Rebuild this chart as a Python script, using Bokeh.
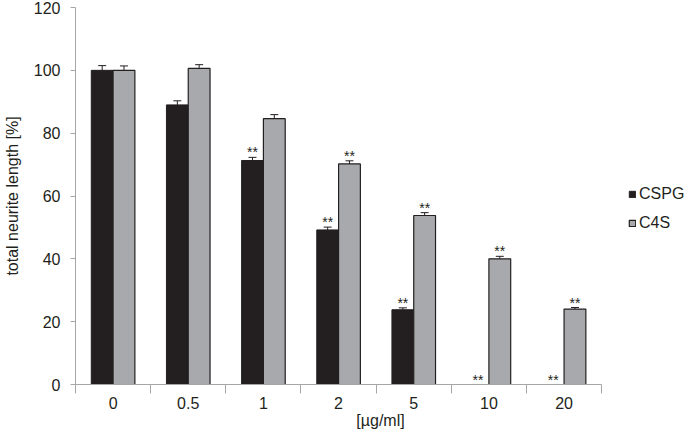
from bokeh.plotting import figure
from bokeh.models import (ColumnDataSource, Range1d, FixedTicker, Whisker,
                          Legend, LegendItem)
from bokeh.core.properties import value
from bokeh.embed import file_html
from bokeh.resources import INLINE

# ---- data ----
categories = ["0", "0.5", "1", "2", "5", "10", "20"]
cspg = [100.0, 89.0, 71.3, 49.2, 23.8, 0.0, 0.0]
cspg_err = [1.5, 1.3, 1.0, 0.9, 0.6, 0.0, 0.0]
cspg_sig = ["", "", "**", "**", "**", "**", "**"]
c4s = [100.0, 100.6, 84.6, 70.2, 53.8, 40.0, 24.0]
c4s_err = [1.4, 1.2, 1.3, 1.0, 0.9, 0.8, 0.5]
c4s_sig = ["", "", "", "**", "**", "**", "**"]
y_ticks = [0, 20, 40, 60, 80, 100, 120]

DARK = "#231f20"
GREY = "#a7a9ac"
AXIS = "#a6a6a6"
FONT = "Liberation Sans"

n = len(categories)
centers = [i + 0.5 for i in range(n)]
off = 0.145
bw = 0.29

src_a = ColumnDataSource(dict(
    x=[c - off for c in centers], top=cspg,
    upper=[v + e for v, e in zip(cspg, cspg_err)], lower=cspg, sig=cspg_sig))
src_b = ColumnDataSource(dict(
    x=[c + off for c in centers], top=c4s,
    upper=[v + e for v, e in zip(c4s, c4s_err)], lower=c4s, sig=c4s_sig))

# frame spans 611 px, of which 527 px hold the 7 categories
x_end = n * 611.0 / 527.0

p = figure(width=685, height=438, output_backend="svg", toolbar_location=None,
           x_range=Range1d(0, x_end), y_range=Range1d(0, 120),
           min_border_left=74, min_border_right=0, min_border_top=7,
           min_border_bottom=54)
p.grid.visible = False
p.outline_line_color = None
p.background_fill_color = "white"
p.border_fill_color = "white"

ra = p.vbar(x="x", top="top", width=bw, source=src_a, fill_color=DARK,
            line_color=DARK, line_width=1)
rb = p.vbar(x="x", top="top", width=bw, source=src_b, fill_color=GREY,
            line_color=DARK, line_width=1.2)

for src in (src_a, src_b):
    w = Whisker(base="x", upper="upper", lower="lower", source=src,
                line_color=DARK, line_width=1)
    w.upper_head.size = 8
    w.upper_head.line_color = DARK
    w.lower_head = None
    p.add_layout(w)
    p.text(x="x", y="upper", text="sig", source=src, text_align="center",
           text_baseline="alphabetic", text_font=value(FONT),
           text_font_size="14px", text_color=DARK, y_offset=-5)

# axes
xa = p.xaxis[0]
xa.bounds = (0, n)
xa.ticker = FixedTicker(ticks=centers, minor_ticks=list(range(n + 1)))
xa.major_label_overrides = {c: lab for c, lab in zip(centers, categories)}
xa.major_tick_line_color = None
xa.major_tick_out = 9
xa.major_tick_in = 0
xa.minor_tick_out = 9
xa.minor_tick_in = 0
xa.minor_tick_line_color = AXIS
xa.axis_line_color = AXIS
xa.major_label_standoff = 3
xa.major_label_text_font = FONT
xa.major_label_text_font_size = "16px"
xa.major_label_text_color = DARK
xa.axis_label = "[µg/ml]"
xa.axis_label_standoff = 0
xa.axis_label_text_font = FONT
xa.axis_label_text_font_size = "16px"
xa.axis_label_text_font_style = "normal"
xa.axis_label_text_color = DARK

ya = p.yaxis[0]
ya.ticker = FixedTicker(ticks=y_ticks)
ya.minor_tick_line_color = None
ya.major_tick_out = 5
ya.major_tick_in = 0
ya.major_tick_line_color = AXIS
ya.axis_line_color = AXIS
ya.major_label_standoff = 10
ya.major_label_text_font = FONT
ya.major_label_text_font_size = "16px"
ya.major_label_text_color = DARK
ya.axis_label = "total neurite length [%]"
ya.axis_label_standoff = 10
ya.axis_label_text_font = FONT
ya.axis_label_text_font_size = "16px"
ya.axis_label_text_font_style = "normal"
ya.axis_label_text_color = DARK

legend = Legend(items=[LegendItem(label="CSPG", renderers=[ra]),
                       LegendItem(label="C4S", renderers=[rb])],
                location=(553, 152), glyph_width=8, glyph_height=8,
                label_standoff=3, spacing=11, label_height=18, padding=0,
                margin=0, border_line_color=None, background_fill_alpha=0,
                label_text_font=FONT, label_text_font_size="16px",
                label_text_color=DARK)
p.add_layout(legend)

open("out.html", "w").write(file_html(p, INLINE))
